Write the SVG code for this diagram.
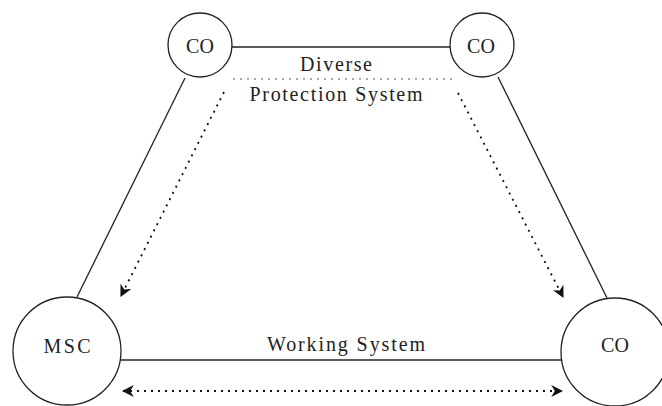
<svg xmlns="http://www.w3.org/2000/svg" width="662" height="406" viewBox="0 0 662 406">
<style>
.node{fill:#fff;stroke:#222;stroke-width:1.3}
.lbl{font-family:"Liberation Serif","Times New Roman",serif;font-size:20px;fill:#222;text-anchor:middle}
.solid{stroke:#222;stroke-width:1.3;fill:none}
.dot{stroke:#111;stroke-width:1.8;fill:none;stroke-dasharray:2 5}
.hdot{stroke:#555;stroke-width:1.2;fill:none;stroke-dasharray:2 5}
</style>
<defs>
<marker id="ah" viewBox="0 0 10 10" refX="9" refY="5" markerWidth="12" markerHeight="12" markerUnits="userSpaceOnUse" orient="auto-start-reverse">
<path d="M0,0 L10,5 L0,10 L3,5 Z" fill="#111"/>
</marker>
</defs>
<rect width="662" height="406" fill="#fff"/>
<g id="connectors">
<line class="solid" x1="232" y1="47" x2="450" y2="47"/>
<line class="solid" x1="185" y1="78" x2="77" y2="297"/>
<line class="solid" x1="498" y1="77" x2="607" y2="298"/>
<line class="solid" x1="121" y1="360" x2="561" y2="360"/>
<line class="hdot" x1="233" y1="79" x2="456" y2="79"/>
<line class="dot" x1="224" y1="92" x2="121" y2="296" marker-end="url(#ah)"/>
<line class="dot" x1="458" y1="93" x2="563" y2="297" marker-end="url(#ah)"/>
<line class="dot" x1="123" y1="391" x2="562" y2="391" marker-start="url(#ah)" marker-end="url(#ah)"/>
<text class="lbl" x="336" y="71" textLength="72" lengthAdjust="spacing">Diverse</text>
<text class="lbl" x="336" y="101" textLength="173" lengthAdjust="spacing">Protection System</text>
<text class="lbl" x="346" y="351" textLength="158" lengthAdjust="spacing">Working System</text>
</g>
<g id="co-top-left">
<circle class="node" cx="200" cy="45" r="32"/>
<text class="lbl" x="200" y="53">CO</text>
</g>
<g id="co-top-right">
<circle class="node" cx="482" cy="45" r="32"/>
<text class="lbl" x="481" y="53">CO</text>
</g>
<g id="msc">
<circle class="node" cx="67" cy="351" r="54"/>
<text class="lbl" x="67" y="353" textLength="47" lengthAdjust="spacing">MSC</text>
</g>
<g id="co-bottom-right">
<circle class="node" cx="615" cy="352" r="54"/>
<text class="lbl" x="615" y="352">CO</text>
</g>
</svg>
